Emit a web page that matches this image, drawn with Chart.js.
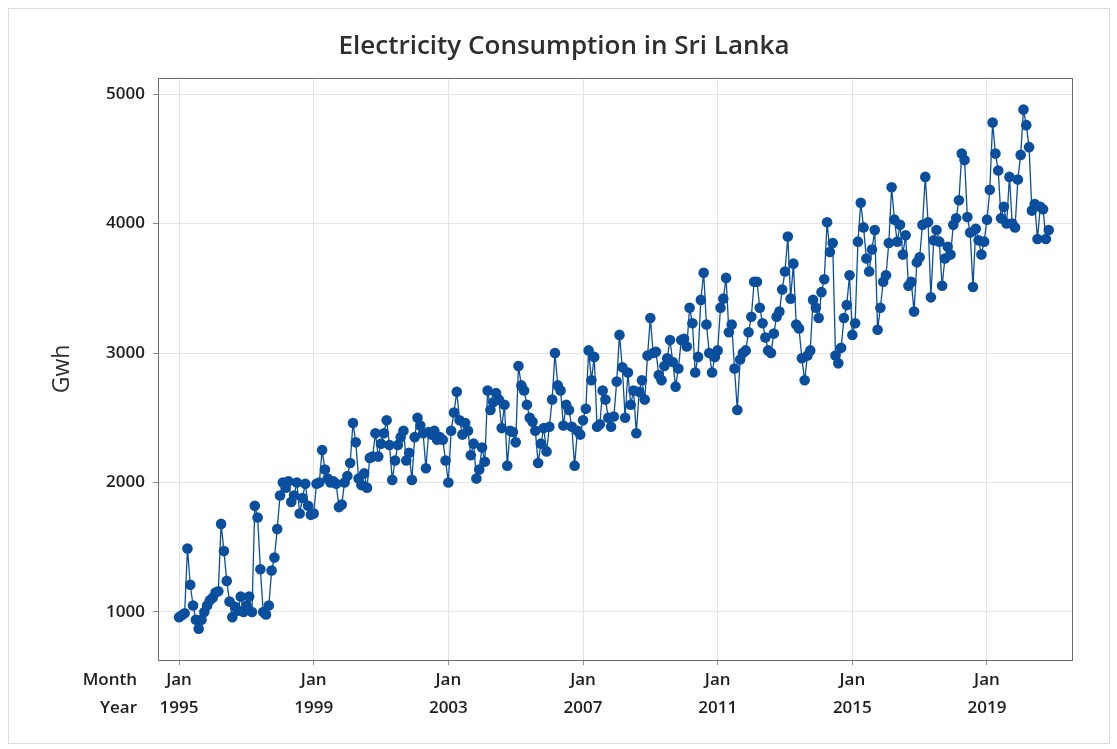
<!DOCTYPE html>
<html>
<head>
<meta charset="utf-8">
<script src="https://cdn.jsdelivr.net/npm/chart.js@4/dist/chart.umd.min.js"></script>
<style>
  html, body { margin: 0; padding: 0; background: #fff; }
  canvas { display: block; }
</style>
</head>
<body>
<canvas id="elec" width="1117" height="749"></canvas>
<script>
// monthly consumption (Gwh), Jan 1995 .. Nov 2020
const y1995 = [960, 975, 990, 1490, 1210, 1050, 940, 870, 940, 1000, 1050, 1090];
const y1996 = [1110, 1150, 1160, 1680, 1470, 1240, 1080, 960, 1040, 1010, 1120, 1000];
const y1997 = [1050, 1120, 1000, 1820, 1730, 1330, 1000, 980, 1050, 1320, 1420, 1640];
const y1998 = [1900, 2000, 1960, 2010, 1850, 1900, 2000, 1760, 1880, 1990, 1820, 1750];
const y1999 = [1760, 1990, 2000, 2250, 2100, 2030, 2000, 2010, 1990, 1810, 1830, 2000];
const y2000 = [2050, 2150, 2460, 2310, 2030, 1980, 2070, 1960, 2190, 2200, 2380, 2200];
const y2001 = [2300, 2380, 2480, 2290, 2020, 2170, 2290, 2350, 2400, 2170, 2230, 2020];
const y2002 = [2350, 2500, 2440, 2380, 2110, 2390, 2370, 2400, 2330, 2350, 2330, 2170];
const y2003 = [2000, 2400, 2540, 2700, 2480, 2370, 2460, 2400, 2210, 2300, 2030, 2100];
const y2004 = [2270, 2160, 2710, 2560, 2620, 2690, 2640, 2420, 2600, 2130, 2400, 2390];
const y2005 = [2310, 2900, 2750, 2710, 2600, 2500, 2470, 2400, 2150, 2300, 2420, 2240];
const y2006 = [2430, 2640, 3000, 2750, 2710, 2440, 2600, 2560, 2430, 2130, 2400, 2370];
const y2007 = [2480, 2570, 3020, 2790, 2970, 2430, 2450, 2710, 2640, 2500, 2430, 2510];
const y2008 = [2780, 3140, 2890, 2500, 2850, 2600, 2710, 2380, 2700, 2790, 2640, 2980];
const y2009 = [3270, 3000, 3010, 2830, 2790, 2900, 2960, 3100, 2930, 2740, 2880, 3100];
const y2010 = [3110, 3050, 3350, 3230, 2850, 2970, 3410, 3620, 3220, 3000, 2850, 2970];
const y2011 = [3020, 3350, 3420, 3580, 3160, 3220, 2880, 2560, 2950, 3000, 3020, 3160];
const y2012 = [3280, 3550, 3550, 3350, 3230, 3120, 3020, 3000, 3150, 3280, 3320, 3490];
const y2013 = [3630, 3900, 3420, 3690, 3220, 3190, 2960, 2790, 2980, 3020, 3410, 3350];
const y2014 = [3270, 3470, 3570, 4010, 3780, 3850, 2980, 2920, 3040, 3270, 3370, 3600];
const y2015 = [3140, 3230, 3860, 4160, 3970, 3730, 3630, 3800, 3950, 3180, 3350, 3550];
const y2016 = [3600, 3850, 4280, 4030, 3860, 3990, 3760, 3910, 3520, 3550, 3320, 3700];
const y2017 = [3740, 3990, 4360, 4010, 3430, 3870, 3950, 3860, 3520, 3730, 3820, 3760];
const y2018 = [3990, 4040, 4180, 4540, 4490, 4050, 3930, 3510, 3960, 3870, 3760, 3860];
const y2019 = [4030, 4260, 4780, 4540, 4410, 4040, 4130, 4000, 4360, 4000, 3970, 4340];
const y2020 = [4530, 4880, 4760, 4590, 4100, 4150, 3880, 4130, 4110, 3880, 3950];

const startYear = 1995;
const tickYears = [1995, 1999, 2003, 2007, 2011, 2015, 2019];
const tickMonth = "Jan";
const yTicks = [1000, 2000, 3000, 4000, 5000];

const gwh = [].concat(y1995, y1996, y1997, y1998, y1999, y2000, y2001, y2002, y2003,
  y2004, y2005, y2006, y2007, y2008, y2009, y2010, y2011, y2012, y2013, y2014,
  y2015, y2016, y2017, y2018, y2019, y2020);
const points = gwh.map((v, i) => ({ x: i, y: v }));

const blue = "#0a4f9e";
const font = "'Open Sans', 'Noto Sans', sans-serif";

// frame around the plot, the picture border and the Month / Year row names
const frame = {
  id: "frame",
  beforeDraw(chart) {
    const c = chart.ctx;
    c.save();
    c.fillStyle = "#fff";
    c.fillRect(0, 0, chart.width, chart.height);
    c.strokeStyle = "#dcdcdc";
    c.lineWidth = 1;
    c.strokeRect(8.5, 8.5, 1101, 735);
    c.restore();
  },
  afterDraw(chart) {
    const a = chart.chartArea;
    const c = chart.ctx;
    c.save();
    c.strokeStyle = "#6e6e6e";
    c.lineWidth = 1;
    c.strokeRect(Math.round(a.left) + 0.5, Math.round(a.top) + 0.5,
      Math.round(a.right - a.left), Math.round(a.bottom - a.top));
    c.fillStyle = "#1e1e1e";
    c.font = "600 17px " + font;
    c.textAlign = "right";
    c.textBaseline = "middle";
    c.fillText("Month", 137, 680);
    c.fillText("Year", 137, 708);
    c.restore();
  }
};

new Chart(document.getElementById("elec"), {
  type: "line",
  data: {
    datasets: [{
      data: points,
      borderColor: blue,
      borderWidth: 1.3,
      backgroundColor: blue,
      pointBackgroundColor: blue,
      pointBorderColor: blue,
      pointRadius: 5.3,
      pointBorderWidth: 0,
      tension: 0
    }]
  },
  options: {
    responsive: false,
    animation: false,
    devicePixelRatio: 1,
    layout: { padding: { left: 56, right: 45, top: 0, bottom: 0 } },
    plugins: {
      legend: { display: false },
      tooltip: { enabled: false },
      title: {
        display: true,
        text: "Electricity Consumption in Sri Lanka",
        color: "#2e2e2e",
        font: { family: font, size: 26, weight: "600" },
        padding: { top: 31.4, bottom: 15.4 }
      }
    },
    scales: {
      x: {
        type: "linear",
        min: -7.5,
        max: 318.3,
        afterBuildTicks: (s) => { s.ticks = tickYears.map(y => ({ value: (y - startYear) * 12 })); },
        afterFit: (s) => { s.height = 89; },
        border: { display: false },
        grid: { color: "#e4e4e4", tickColor: "#8a8a8a", tickLength: 5 },
        ticks: {
          padding: 1,
          maxRotation: 0,
          autoSkip: false,
          color: "#1e1e1e",
          font: { family: font, size: 17, weight: "600", lineHeight: "28px" },
          callback: (v) => [tickMonth, String(startYear + v / 12)]
        }
      },
      y: {
        min: 629,
        max: 5124,
        afterBuildTicks: (s) => { s.ticks = yTicks.map(v => ({ value: v })); },
        afterFit: (s) => { s.width = 102; },
        border: { display: false },
        grid: { color: "#e4e4e4", tickColor: "#8a8a8a", tickLength: 5 },
        title: {
          display: true,
          text: "Gwh",
          color: "#2e2e2e",
          font: { family: font, size: 23, weight: "normal" },
          padding: { top: -7.8, bottom: 0 }
        },
        ticks: {
          padding: 8,
          color: "#1e1e1e",
          font: { family: font, size: 17, weight: "600" },
          callback: (v) => String(v)
        }
      }
    }
  },
  plugins: [frame]
});
</script>
</body>
</html>
